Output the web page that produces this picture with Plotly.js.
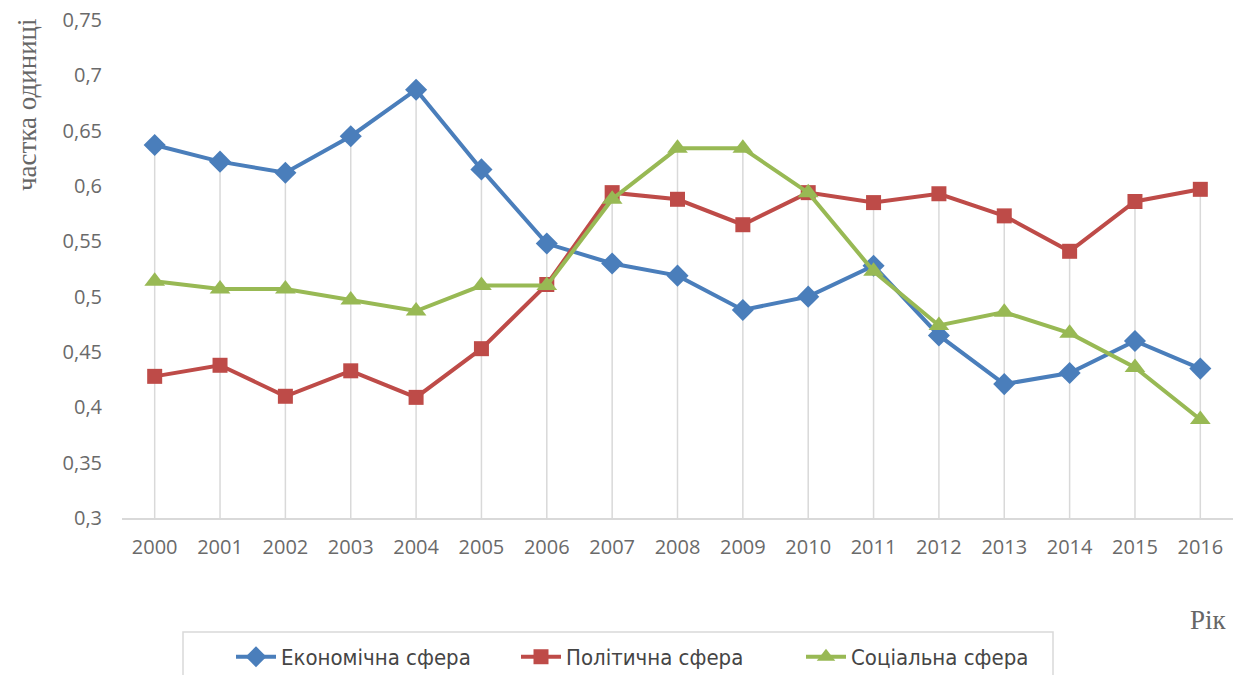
<!DOCTYPE html>
<html>
<head>
<meta charset="utf-8">
<script src="https://cdn.plot.ly/plotly-3.0.1.min.js"></script>
<style>html,body{margin:0;padding:0;background:#fff;}#chart{width:1233px;height:675px;}</style>
</head>
<body>
<div id="chart"></div>
<script>
const years = ['2000','2001','2002','2003','2004','2005','2006','2007','2008','2009','2010','2011','2012','2013','2014','2015','2016'];
const economic = [0.637,0.622,0.612,0.645,0.687,0.615,0.548,0.530,0.519,0.488,0.500,0.528,0.465,0.421,0.431,0.460,0.435];
const political = [0.428,0.438,0.410,0.433,0.409,0.453,0.511,0.594,0.588,0.565,0.594,0.585,0.593,0.573,0.541,0.586,0.597];
const social = [0.514,0.507,0.507,0.497,0.487,0.510,0.510,0.588,0.634,0.634,0.594,0.523,0.474,0.486,0.467,0.436,0.389];
const seriesNames = ['Економічна сфера','Політична сфера','Соціальна сфера'];
const yTickVals = [0.3,0.35,0.4,0.45,0.5,0.55,0.6,0.65,0.7,0.75];
const yTickText = ['0,3','0,35','0,4','0,45','0,5','0,55','0,6','0,65','0,7','0,75'];
const yTitle = 'частка одиниці';
const xTitle = 'Рік';
const yMin = 0.3, yMax = 0.75;

// drop lines from highest point down to axis
const dropX = [], dropY = [];
years.forEach((yr, i) => {
  const m = Math.max(economic[i], political[i], social[i]);
  dropX.push(yr, yr, null);
  dropY.push(m, yMin, null);
});

const traces = [
  {x: dropX, y: dropY, mode: 'lines', line: {color: '#d9d9d9', width: 1.5}, showlegend: false, hoverinfo: 'skip'},
  {x: years, y: economic, name: seriesNames[0], mode: 'lines+markers',
   line: {color: '#4a7ebb', width: 4}, marker: {symbol: 'diamond', size: 17, color: '#4a7ebb'}},
  {x: years, y: political, name: seriesNames[1], mode: 'lines+markers',
   line: {color: '#be4b48', width: 4}, marker: {symbol: 'square', size: 15, color: '#be4b48'}},
  {x: years, y: social, name: seriesNames[2], mode: 'lines+markers',
   line: {color: '#98b954', width: 4}, marker: {symbol: 'triangle-up', size: 18, color: '#98b954'}}
];

const layout = {
  width: 1233, height: 675,
  margin: {l: 122, r: 0, t: 20, b: 157, autoexpand: false},
  paper_bgcolor: '#fff', plot_bgcolor: '#fff',
  font: {family: 'Open Sans, Liberation Sans, Arial, sans-serif', color: '#6a6a6a'},
  showlegend: true,
  xaxis: {
    type: 'category', range: [-0.5, 16.5], showgrid: false, zeroline: false,
    showline: true, linecolor: '#d9d9d9', linewidth: 2, automargin: false,
    ticks: '', tickfont: {size: 20, color: '#6a6a6a'}, ticklabelstandoff: 10, fixedrange: true
  },
  yaxis: {
    range: [yMin, yMax], showgrid: false, zeroline: false, showline: false, automargin: false,
    tickvals: yTickVals, ticktext: yTickText, ticks: '',
    tickfont: {size: 20, color: '#6a6a6a'}, ticklabelstandoff: 19, fixedrange: true
  },
  legend: {
    orientation: 'h', x: (231-122)/1111, xanchor: 'left', y: -0.279, yanchor: 'middle',
    bgcolor: 'rgba(0,0,0,0)', borderwidth: 0,
    font: {family: 'Liberation Sans Narrow, DejaVu Sans Condensed, sans-serif', size: 22, color: '#454545'},
    entrywidth: 230, entrywidthmode: 'pixels', itemwidth: 40
  },
  shapes: [
    {type: 'rect', xref: 'paper', yref: 'paper', x0: (183-122)/1111, x1: (1053-122)/1111,
     y0: -(632-518)/498, y1: -(690-518)/498, line: {color: '#d9d9d9', width: 1.5}, fillcolor: 'rgba(0,0,0,0)'}
  ],
  annotations: [
    {text: yTitle, xref: 'paper', yref: 'paper', x: (27-122)/1111, y: 1 - (105-20)/498,
     xanchor: 'center', yanchor: 'middle', textangle: -90, showarrow: false,
     font: {family: 'Liberation Serif, Times New Roman, serif', size: 27, color: '#666666'}},
    {text: xTitle, xref: 'paper', yref: 'paper', x: (1208-122)/1111, y: -(620-518)/498,
     xanchor: 'center', yanchor: 'middle', showarrow: false,
     font: {family: 'Liberation Serif, Times New Roman, serif', size: 27, color: '#666666'}}
  ]
};

Plotly.newPlot('chart', traces, layout, {displayModeBar: false, staticPlot: true});
</script>
</body>
</html>
